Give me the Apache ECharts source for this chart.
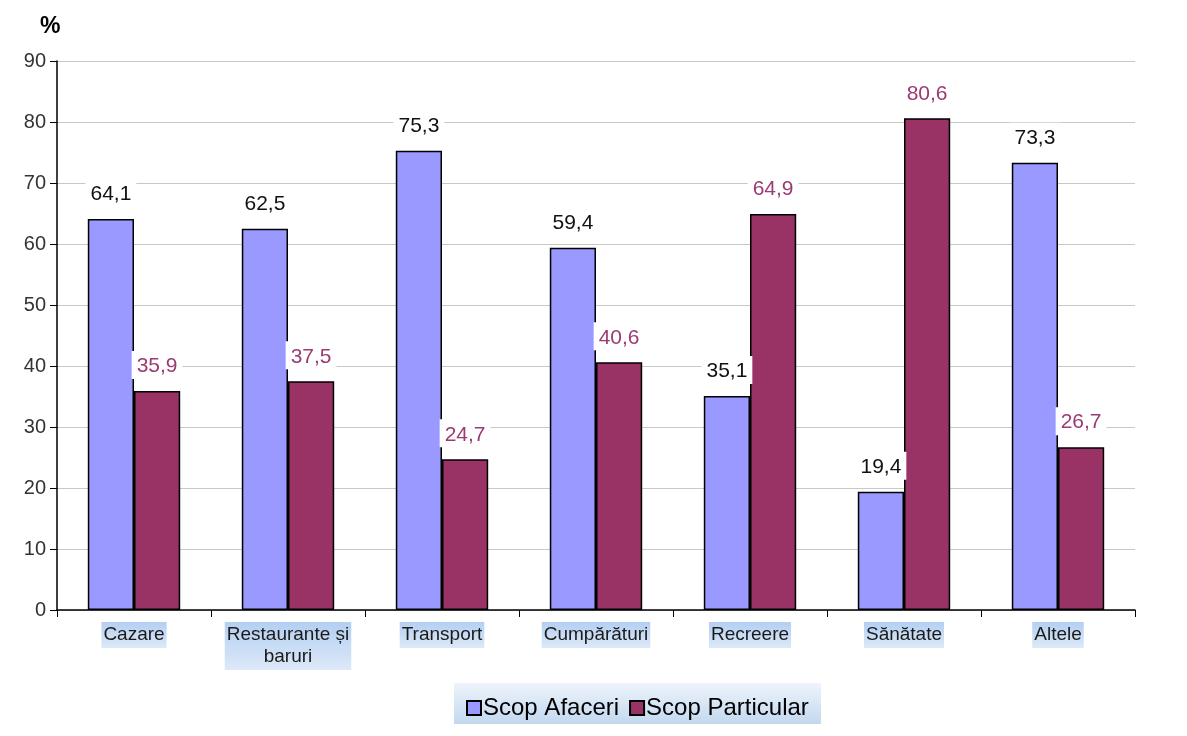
<!DOCTYPE html>
<html><head><meta charset="utf-8">
<script src="https://cdn.jsdelivr.net/npm/echarts@6/dist/echarts.min.js"></script>
<style>html,body{margin:0;padding:0;background:#fff}#c{width:1187px;height:736px}</style>
</head><body><div id="c"></div>
<script>
const categories = ['Cazare','Restaurante și\nbaruri','Transport','Cumpărături','Recreere','Sănătate','Altele'];
const afaceri = [64.1, 62.5, 75.3, 59.4, 35.1, 19.4, 73.3];
const particular = [35.9, 37.5, 24.7, 40.6, 64.9, 80.6, 26.7];
const seriesNames = ['Scop Afaceri','Scop Particular'];
const fmt = p => String(p.value).replace('.', ',');
const chart = echarts.init(document.getElementById('c'));
const catBg = {type:'linear',x:0,y:0,x2:0,y2:1,colorStops:[{offset:0,color:'#b3cff2'},{offset:1,color:'#dde9f8'}]};
chart.setOption({
  animation:false,
  textStyle:{fontFamily:'Liberation Sans, Arial, sans-serif'},
  graphic:[
    {type:'rect',left:454,top:683,shape:{width:367,height:41},style:{fill:{type:'linear',x:0,y:0,x2:0,y2:1,colorStops:[{offset:0,color:'#eef4fb'},{offset:1,color:'#c2d8f0'}]}}},
    {type:'text',left:40,top:15,style:{text:'%',font:'bold 23px Liberation Sans, Arial',fill:'#000'}}
  ],
  grid:{left:57,right:52,top:61,bottom:126},
  legend:{top:691,left:461,itemWidth:14,itemHeight:14,itemGap:10,icon:'rect',
    textStyle:{fontSize:24,color:'#000',padding:[0,0,0,-3]},data:seriesNames},
  xAxis:{type:'category',data:categories,
    axisLine:{lineStyle:{color:'#000',width:1.5}},
    axisTick:{show:true,length:7,interval:0,lineStyle:{color:'#000'},alignWithLabel:false},
    axisLabel:{interval:0,color:'#1a1a1a',fontSize:19,margin:12,lineHeight:22,backgroundColor:catBg,padding:[2,2,2,2]}},
  yAxis:{type:'value',min:0,max:90,interval:10,
    axisLine:{show:true,lineStyle:{color:'#000',width:1.5}},
    axisTick:{show:true,length:7,lineStyle:{color:'#000'}},
    axisLabel:{color:'#333',fontSize:20,margin:11},
    splitLine:{lineStyle:{color:'#c8c8c8',width:1.2}}},
  series:[
    {name:seriesNames[0],type:'bar',data:afaceri,barGap:'0%',barCategoryGap:'40%',
      itemStyle:{color:'#9999ff',borderColor:'#000',borderWidth:1.5},
      label:{show:true,position:'top',distance:12,formatter:fmt,color:'#111',fontSize:21,backgroundColor:'#fff',padding:[5,5,2,5]}},
    {name:seriesNames[1],type:'bar',data:particular,
      itemStyle:{color:'#993366',borderColor:'#000',borderWidth:1.5},
      label:{show:true,position:'top',distance:12,formatter:fmt,color:'#9b3b74',fontSize:21,backgroundColor:'#fff',padding:[5,5,2,5]}}
  ]
});
</script></body></html>
